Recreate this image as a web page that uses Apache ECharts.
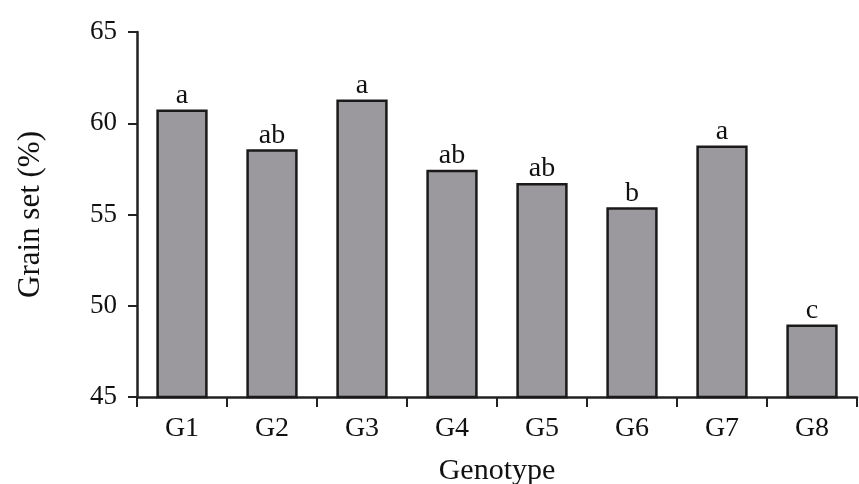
<!DOCTYPE html>
<html>
<head>
<meta charset="utf-8">
<script src="https://cdn.jsdelivr.net/npm/echarts@6/dist/echarts.min.js"></script>
<style>html,body{margin:0;padding:0;background:#fff;}#c{width:859px;height:484px;}</style>
</head>
<body>
<div id="c"></div>
<script>
var categories = ['G1','G2','G3','G4','G5','G6','G7','G8'];
var grainSet = [60.76, 58.57, 61.3, 57.45, 56.72, 55.4, 58.78, 48.97];
var letters = ['a','ab','a','ab','ab','b','a','c'];
var yTicks = [45, 50, 55, 60, 65];

var FONT = '"Liberation Serif", "Times New Roman", serif';
var chart = echarts.init(document.getElementById('c'));
chart.setOption({
  animation: false,
  grid: {left: 137, right: 2, top: 32, bottom: 87, containLabel: false, outerBoundsMode: 'none'},
  xAxis: {
    type: 'category',
    data: categories,
    name: 'Genotype',
    nameLocation: 'middle',
    nameGap: 59,
    nameTextStyle: {fontFamily: FONT, fontSize: 30, color: '#111'},
    axisLine: {lineStyle: {color: '#222', width: 2.5}},
    axisTick: {show: true, length: 10, alignWithLabel: false, lineStyle: {color: '#222', width: 2}},
    axisLabel: {fontFamily: FONT, fontSize: 28, color: '#111', margin: 18}
  },
  yAxis: {
    type: 'value',
    min: yTicks[0],
    max: yTicks[yTicks.length - 1],
    interval: 5,
    name: 'Grain set (%)',
    nameLocation: 'middle',
    nameGap: 91,
    nameTextStyle: {fontFamily: FONT, fontSize: 31, color: '#111'},
    splitLine: {show: false},
    axisLine: {show: true, lineStyle: {color: '#222', width: 2.5}},
    axisTick: {show: true, length: 9, lineStyle: {color: '#222', width: 2}},
    axisLabel: {fontFamily: FONT, fontSize: 27, color: '#111', margin: 20}
  },
  series: [{
    type: 'bar',
    data: grainSet,
    barWidth: '57%',
    itemStyle: {color: '#9b999d', borderColor: '#1a1a1a', borderWidth: 2.5},
    label: {
      show: true,
      position: 'top',
      distance: 0,
      fontFamily: FONT,
      fontSize: 28,
      color: '#111',
      formatter: function (p) { return letters[p.dataIndex]; }
    }
  }]
});
</script>
</body>
</html>
